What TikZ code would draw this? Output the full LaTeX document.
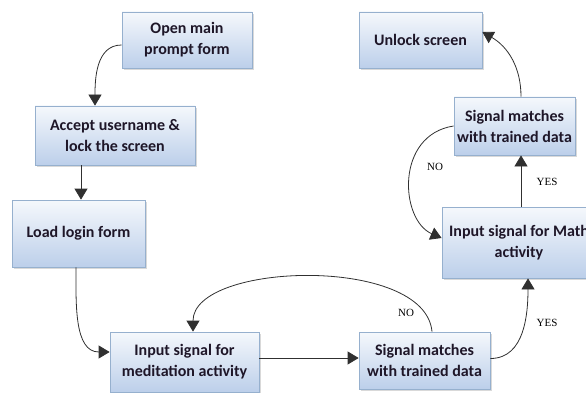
\documentclass[tikz,border=0pt]{standalone}
\usepackage{fontspec}
\setmainfont{Carlito}
\newfontfamily\labelfont{Liberation Serif}
\usetikzlibrary{arrows.meta,shadows}
\definecolor{boxtop}{RGB}{245,248,252}
\definecolor{boxbot}{RGB}{188,207,234}
\definecolor{boxline}{RGB}{150,176,206}
\definecolor{lnc}{RGB}{48,48,48}
\definecolor{txt}{RGB}{30,22,40}
\begin{document}
\begin{tikzpicture}[x=1pt,y=1pt,
  box/.style={draw=boxline, line width=0.8pt, top color=boxtop, bottom color=boxbot,
    drop shadow={shadow xshift=2pt,shadow yshift=-2pt,opacity=0.3,fill=gray},
    font=\fontsize{16}{21}\selectfont\bfseries, text=txt, align=center, inner sep=0pt},
  arr/.style={draw=lnc, line width=0.8pt, -{Triangle[width=13pt,length=11pt,fill=lnc]}},
  lbl/.style={font=\labelfont\fontsize{11}{12}\selectfont, text=black, inner sep=0pt}]
\useasboundingbox (0,0) rectangle (586,-393);
\clip (0,0) rectangle (586,-393);
\node[box, minimum width=130pt, minimum height=56pt] (open) at (187,-40) {Open main\\prompt form};
\node[box, minimum width=160pt, minimum height=59pt] (accept) at (115,-135.5) {Accept username \&\\lock the screen};
\node[box, minimum width=133pt, minimum height=67pt] (load) at (78.5,-233.5) {Load login form};
\node[box, minimum width=149pt, minimum height=60pt] (medit) at (184.5,-362) {Input signal for\\meditation activity};
\node[box, minimum width=131pt, minimum height=57pt] (match1) at (424.5,-360.5) {Signal matches\\with trained data};
\node[box, minimum width=154pt, minimum height=71pt] (math) at (519,-242.5) {Input signal for Math\\activity};
\node[box, minimum width=121pt, minimum height=58pt] (match2) at (514.5,-126) {Signal matches\\with trained data};
\node[box, minimum width=123pt, minimum height=56pt] (unlock) at (420.5,-40) {Unlock screen};
% connectors
\draw[arr] ([yshift=-5pt]open.west) to[out=180,in=90] ([xshift=-20pt]accept.north);
\draw[arr] ([xshift=-34pt]accept.south) -- ([xshift=-34pt]accept.south |- load.north);
\draw[arr] ([xshift=-2.5pt]load.south) to[out=-90,in=180] ([yshift=10pt]medit.west);
\draw[arr] ([yshift=4pt]medit.east) -- ([yshift=4pt]medit.east -| match1.west);
\draw[arr] ([xshift=7.5pt]match1.north) .. controls (425,-255) and (193,-262) .. ([xshift=8.5pt]medit.north);
\draw[arr] ([yshift=2pt]match1.east) to[out=0,in=-90] ([xshift=9pt]math.south);
\draw[arr] ([xshift=2pt]math.north) -- ([xshift=2pt]math.north |- match2.south);
\draw[arr] (match2.west) .. controls (395,-135) and (400,-220) .. ([yshift=4.5pt]math.west);
\draw[arr] ([xshift=6.5pt]match2.north) to[out=90,in=-30] ([yshift=8pt]unlock.east);
% labels
\node[lbl] (no1) at (406,-313) {NO};
\node[lbl] (yes1) at (547,-323) {YES};
\node[lbl] (yes2) at (547,-182) {YES};
\node[lbl] (no2) at (435,-167) {NO};
\end{tikzpicture}
\end{document}
